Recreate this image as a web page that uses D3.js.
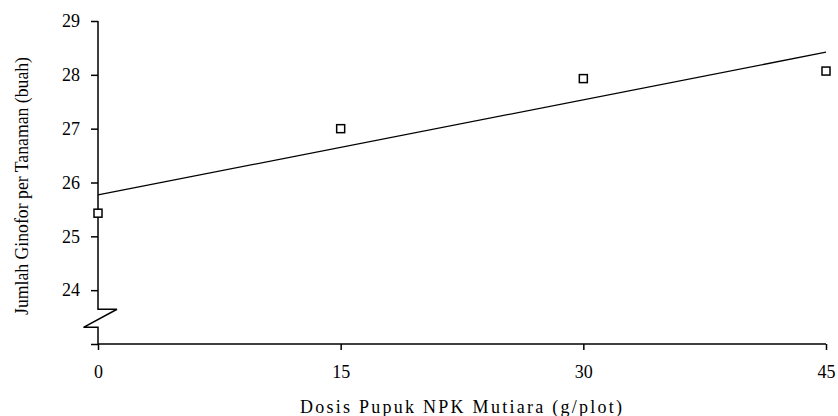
<!DOCTYPE html>
<html>
<head>
<meta charset="utf-8">
<script src="https://cdn.jsdelivr.net/npm/d3@7"></script>
<style>
  html, body { margin: 0; padding: 0; background: #fff; }
  svg { display: block; }
  svg text { fill: #000; }
</style>
</head>
<body>
<svg id="chart" width="838" height="416"></svg>
<script>
// ---- data ----
const doses = [0, 15, 30, 45];
const ginofor = [25.43, 27.0, 27.93, 28.07];
const trendDoses = [0, 45];
const trendValues = [25.77, 28.42];
const xTicks = [0, 15, 30, 45];
const yTicks = [23, 24, 25, 26, 27, 28, 29];
const yLabeled = [24, 25, 26, 27, 28, 29];
const xTitle = "Dosis Pupuk NPK Mutiara (g/plot)";
const yTitle = "Jumlah Ginofor per Tanaman (buah)";

const FONT = "Liberation Serif";
const svg = d3.select("#chart");
const x = d3.scaleLinear().domain([0, 45]).range([98, 826]);
const y = d3.scaleLinear().domain([23, 29]).range([344, 21]);

// y axis ticks + labels (domain drawn manually with break)
const yAxis = d3.axisLeft(y).tickValues(yTicks).tickSize(7).tickPadding(11)
  .tickFormat(d => yLabeled.includes(d) ? d : "");
const gy = svg.append("g").attr("transform", `translate(${x(0)},0)`).call(yAxis)
  .attr("font-family", FONT).attr("font-size", 18);
gy.select(".domain").remove();
gy.selectAll(".tick line").attr("stroke", "#000").attr("stroke-width", 1.5);

// broken y axis line
const bx = x(0);
const bTop = y(23.645), bBot = y(23.31);
const brk = d3.path();
brk.moveTo(bx, y(29));
brk.lineTo(bx, bTop);
brk.lineTo(bx + 19, bTop);
brk.lineTo(bx - 14.5, bBot);
brk.lineTo(bx, bBot);
brk.lineTo(bx, y(23));
svg.append("path").attr("d", brk.toString()).attr("fill", "none")
  .attr("stroke", "#000").attr("stroke-width", 1.5);

// x axis
const xAxis = d3.axisBottom(x).tickValues(xTicks).tickSize(6).tickPadding(15).tickFormat(d3.format("d"));
const gx = svg.append("g").attr("transform", `translate(0,${y(23)})`).call(xAxis)
  .attr("font-family", FONT).attr("font-size", 18);
gx.select(".domain").remove();
gx.selectAll(".tick line").attr("stroke", "#000").attr("stroke-width", 1.5);
svg.append("line").attr("x1", x(0)).attr("x2", x(45)).attr("y1", y(23)).attr("y2", y(23))
  .attr("stroke", "#000").attr("stroke-width", 1.5);

// trend line
const line = d3.line().x(d => x(d[0])).y(d => y(d[1]));
svg.append("path").datum(trendDoses.map((d, i) => [d, trendValues[i]]))
  .attr("d", line).attr("fill", "none").attr("stroke", "#000").attr("stroke-width", 1.3);

// markers
svg.selectAll("rect.pt").data(doses.map((d, i) => [d, ginofor[i]])).enter()
  .append("rect").attr("class", "pt")
  .attr("x", d => x(d[0]) - 4).attr("y", d => y(d[1]) - 4)
  .attr("width", 8).attr("height", 8)
  .attr("fill", "#fff").attr("stroke", "#000").attr("stroke-width", 1.5);

// titles
svg.append("text").attr("x", 461).attr("y", 413)
  .attr("text-anchor", "middle").attr("font-family", FONT).attr("font-size", 18)
  .attr("textLength", 322).attr("lengthAdjust", "spacing")
  .text(xTitle);
svg.append("text").attr("transform", "translate(28,186) rotate(-90)")
  .attr("text-anchor", "middle").attr("font-family", FONT).attr("font-size", 19)
  .attr("textLength", 258).attr("lengthAdjust", "spacingAndGlyphs")
  .text(yTitle);
</script>
</body>
</html>
